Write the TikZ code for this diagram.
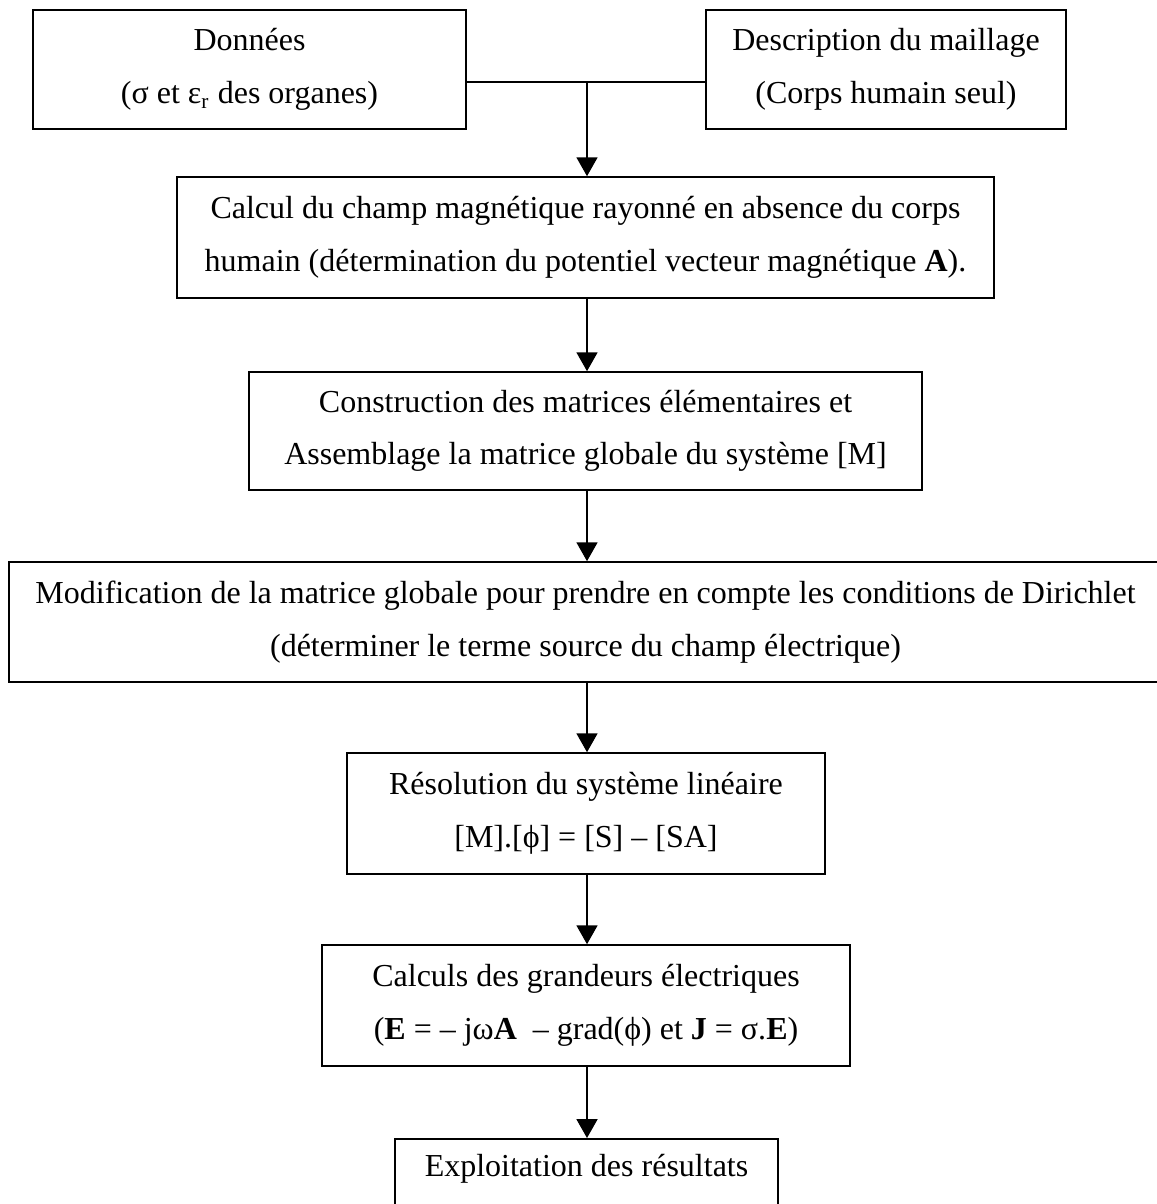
\documentclass[tikz,border=0pt]{standalone}
\usepackage{fontspec}
\setmainfont{Liberation Serif}
\usetikzlibrary{arrows.meta}
\begin{document}
\begin{tikzpicture}[x=0.375pt,y=-0.375pt,
  box/.style={draw, line width=0.6pt, inner sep=0pt, align=center,
    font=\fontsize{12}{19.7}\selectfont},
  arr/.style={line width=0.6pt, -{Triangle[width=7.9pt,length=7.1pt]}}]
\useasboundingbox (0,0) rectangle (1157,1204);
\node[box, minimum width=433*0.375pt, minimum height=119*0.375pt] (b1) at (249.5,69.5)
  {Données\\(σ et ε\textsubscript{r} des organes)};
\node[box, minimum width=360*0.375pt, minimum height=119*0.375pt] (b2) at (886,69.5)
  {Description du maillage\\(Corps humain seul)};
\node[box, minimum width=817*0.375pt, minimum height=121*0.375pt] (b3) at (585.5,237.5)
  {Calcul du champ magnétique rayonné en absence du corps\\humain (détermination du potentiel vecteur magnétique \textbf{A}).};
\node[box, minimum width=673*0.375pt, minimum height=118*0.375pt] (b4) at (585.5,431)
  {Construction des matrices élémentaires et\\Assemblage la matrice globale du système [M]};
\node[box, minimum width=1153*0.375pt, minimum height=120*0.375pt] (b5) at (585.5,622)
  {Modification de la matrice globale pour prendre en compte les conditions de Dirichlet\\(déterminer le terme source du champ électrique)};
\node[box, minimum width=478*0.375pt, minimum height=121*0.375pt] (b6) at (586,813.5)
  {Résolution du système linéaire\\{}[M].[ϕ] = [S] – [SA]};
\node[box, minimum width=528*0.375pt, minimum height=121*0.375pt] (b7) at (586,1005.5)
  {Calculs des grandeurs électriques\\(\textbf{E} = – jω\textbf{A}\ \ – grad(ϕ) et \textbf{J} = σ.\textbf{E})};
\node[box, minimum width=383*0.375pt, minimum height=121*0.375pt, anchor=north] (b8) at (586.5,1138)
  {Exploitation des résultats\\\strut};
\coordinate (j) at (587,82);
\draw[line width=0.6pt] (b1.east |- j) -- (b2.west |- j);
\draw[arr] (j) -- (j |- b3.north);
\draw[arr] (j |- b3.south) -- (j |- b4.north);
\draw[arr] (j |- b4.south) -- (j |- b5.north);
\draw[arr] (j |- b5.south) -- (j |- b6.north);
\draw[arr] (j |- b6.south) -- (j |- b7.north);
\draw[arr] (j |- b7.south) -- (j |- b8.north);
\end{tikzpicture}
\end{document}
